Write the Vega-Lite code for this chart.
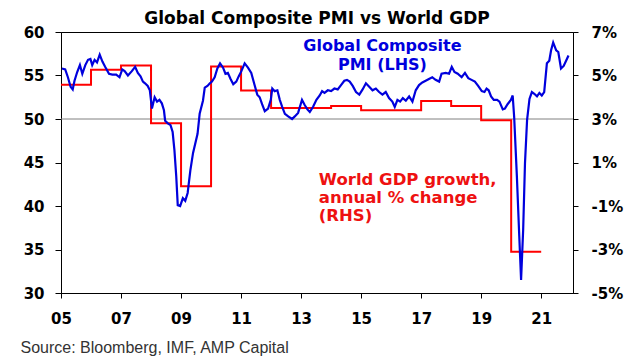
{
  "$schema": "https://vega.github.io/schema/vega-lite/v6.json",
  "width": 512,
  "height": 261,
  "autosize": {"type": "none"},
  "padding": {"left": 61, "top": 32, "right": 65, "bottom": 64},
  "background": "white",
  "title": {"text": "Global Composite PMI vs World GDP", "font": "DejaVu Sans", "fontSize": 17, "fontWeight": "bold", "color": "black", "anchor": "middle", "offset": -3},
  "datasets": {
    "pmi": [
      {"year": 2005.03, "pmi": 55.8}, {"year": 2005.14, "pmi": 55.7}, {"year": 2005.23, "pmi": 54.8}, {"year": 2005.32, "pmi": 53.7},
      {"year": 2005.39, "pmi": 53.4}, {"year": 2005.45, "pmi": 54.4}, {"year": 2005.54, "pmi": 55.4}, {"year": 2005.63, "pmi": 56.2},
      {"year": 2005.71, "pmi": 55.2}, {"year": 2005.81, "pmi": 56.2}, {"year": 2005.90, "pmi": 56.8}, {"year": 2005.98, "pmi": 56.9},
      {"year": 2006.04, "pmi": 56.2}, {"year": 2006.12, "pmi": 56.8}, {"year": 2006.20, "pmi": 56.5}, {"year": 2006.29, "pmi": 57.4},
      {"year": 2006.38, "pmi": 56.6}, {"year": 2006.47, "pmi": 56.0}, {"year": 2006.60, "pmi": 55.2}, {"year": 2006.71, "pmi": 55.1},
      {"year": 2006.84, "pmi": 55.1}, {"year": 2006.95, "pmi": 54.8}, {"year": 2007.04, "pmi": 55.7}, {"year": 2007.12, "pmi": 55.5},
      {"year": 2007.23, "pmi": 55.0}, {"year": 2007.36, "pmi": 55.5}, {"year": 2007.47, "pmi": 56.0}, {"year": 2007.56, "pmi": 55.3},
      {"year": 2007.65, "pmi": 54.9}, {"year": 2007.73, "pmi": 54.3}, {"year": 2007.80, "pmi": 54.1}, {"year": 2007.89, "pmi": 53.8},
      {"year": 2007.96, "pmi": 53.3}, {"year": 2008.03, "pmi": 51.2}, {"year": 2008.12, "pmi": 52.5}, {"year": 2008.20, "pmi": 52.0},
      {"year": 2008.28, "pmi": 52.2}, {"year": 2008.36, "pmi": 51.8}, {"year": 2008.43, "pmi": 51.0}, {"year": 2008.47, "pmi": 49.8},
      {"year": 2008.56, "pmi": 49.5}, {"year": 2008.65, "pmi": 49.3}, {"year": 2008.72, "pmi": 48.5}, {"year": 2008.78, "pmi": 46.4},
      {"year": 2008.84, "pmi": 43.4}, {"year": 2008.89, "pmi": 40.1}, {"year": 2008.97, "pmi": 40.0}, {"year": 2009.06, "pmi": 40.9},
      {"year": 2009.14, "pmi": 40.6}, {"year": 2009.22, "pmi": 41.5}, {"year": 2009.31, "pmi": 44.1}, {"year": 2009.40, "pmi": 46.1},
      {"year": 2009.55, "pmi": 48.3}, {"year": 2009.62, "pmi": 50.6}, {"year": 2009.73, "pmi": 52.1}, {"year": 2009.79, "pmi": 53.6},
      {"year": 2009.88, "pmi": 53.8}, {"year": 2009.96, "pmi": 54.1}, {"year": 2010.03, "pmi": 54.3}, {"year": 2010.12, "pmi": 54.8},
      {"year": 2010.21, "pmi": 55.8}, {"year": 2010.30, "pmi": 56.4}, {"year": 2010.40, "pmi": 55.9}, {"year": 2010.48, "pmi": 55.2},
      {"year": 2010.56, "pmi": 55.3}, {"year": 2010.65, "pmi": 54.6}, {"year": 2010.74, "pmi": 54.0}, {"year": 2010.84, "pmi": 54.3},
      {"year": 2010.92, "pmi": 54.9}, {"year": 2011.01, "pmi": 55.5}, {"year": 2011.12, "pmi": 56.4}, {"year": 2011.23, "pmi": 55.9},
      {"year": 2011.34, "pmi": 55.3}, {"year": 2011.45, "pmi": 53.9}, {"year": 2011.54, "pmi": 52.8}, {"year": 2011.62, "pmi": 52.5},
      {"year": 2011.70, "pmi": 51.7}, {"year": 2011.79, "pmi": 50.9}, {"year": 2011.90, "pmi": 51.2}, {"year": 2011.99, "pmi": 52.2},
      {"year": 2012.04, "pmi": 53.5}, {"year": 2012.12, "pmi": 53.2}, {"year": 2012.21, "pmi": 53.3}, {"year": 2012.29, "pmi": 52.2},
      {"year": 2012.37, "pmi": 51.4}, {"year": 2012.46, "pmi": 50.6}, {"year": 2012.57, "pmi": 50.3}, {"year": 2012.70, "pmi": 50.0},
      {"year": 2012.79, "pmi": 50.3}, {"year": 2012.90, "pmi": 50.7}, {"year": 2013.03, "pmi": 52.2}, {"year": 2013.12, "pmi": 51.6},
      {"year": 2013.21, "pmi": 51.1}, {"year": 2013.29, "pmi": 50.8}, {"year": 2013.40, "pmi": 51.4}, {"year": 2013.51, "pmi": 52.2},
      {"year": 2013.62, "pmi": 52.7}, {"year": 2013.70, "pmi": 53.2}, {"year": 2013.78, "pmi": 53.0}, {"year": 2013.89, "pmi": 53.3},
      {"year": 2014.00, "pmi": 53.2}, {"year": 2014.11, "pmi": 53.5}, {"year": 2014.22, "pmi": 53.4}, {"year": 2014.33, "pmi": 53.9},
      {"year": 2014.44, "pmi": 54.4}, {"year": 2014.53, "pmi": 54.5}, {"year": 2014.62, "pmi": 54.3}, {"year": 2014.72, "pmi": 53.8},
      {"year": 2014.83, "pmi": 53.1}, {"year": 2014.94, "pmi": 52.8}, {"year": 2015.05, "pmi": 53.4}, {"year": 2015.16, "pmi": 54.1},
      {"year": 2015.27, "pmi": 53.7}, {"year": 2015.38, "pmi": 53.3}, {"year": 2015.49, "pmi": 53.5}, {"year": 2015.60, "pmi": 53.1},
      {"year": 2015.71, "pmi": 52.8}, {"year": 2015.82, "pmi": 53.1}, {"year": 2015.93, "pmi": 52.4}, {"year": 2016.04, "pmi": 52.0},
      {"year": 2016.12, "pmi": 51.4}, {"year": 2016.21, "pmi": 52.2}, {"year": 2016.30, "pmi": 52.0}, {"year": 2016.39, "pmi": 52.4},
      {"year": 2016.49, "pmi": 52.1}, {"year": 2016.60, "pmi": 52.6}, {"year": 2016.71, "pmi": 52.0}, {"year": 2016.82, "pmi": 53.3},
      {"year": 2016.93, "pmi": 53.9}, {"year": 2017.04, "pmi": 54.2}, {"year": 2017.15, "pmi": 54.4}, {"year": 2017.26, "pmi": 54.6},
      {"year": 2017.37, "pmi": 54.8}, {"year": 2017.48, "pmi": 54.5}, {"year": 2017.60, "pmi": 54.3}, {"year": 2017.68, "pmi": 55.2},
      {"year": 2017.82, "pmi": 55.3}, {"year": 2017.93, "pmi": 55.2}, {"year": 2018.02, "pmi": 56.0}, {"year": 2018.11, "pmi": 55.4},
      {"year": 2018.22, "pmi": 55.2}, {"year": 2018.35, "pmi": 54.8}, {"year": 2018.46, "pmi": 55.3}, {"year": 2018.57, "pmi": 54.7},
      {"year": 2018.68, "pmi": 54.5}, {"year": 2018.79, "pmi": 54.3}, {"year": 2018.90, "pmi": 53.8}, {"year": 2019.02, "pmi": 53.2},
      {"year": 2019.11, "pmi": 53.1}, {"year": 2019.18, "pmi": 53.5}, {"year": 2019.25, "pmi": 53.3}, {"year": 2019.33, "pmi": 52.6},
      {"year": 2019.42, "pmi": 52.2}, {"year": 2019.53, "pmi": 52.2}, {"year": 2019.61, "pmi": 52.0}, {"year": 2019.72, "pmi": 51.1},
      {"year": 2019.79, "pmi": 51.2}, {"year": 2019.88, "pmi": 51.7}, {"year": 2019.99, "pmi": 52.2}, {"year": 2020.05, "pmi": 52.7},
      {"year": 2020.10, "pmi": 50.2}, {"year": 2020.19, "pmi": 43.4}, {"year": 2020.27, "pmi": 36.5}, {"year": 2020.33, "pmi": 31.5},
      {"year": 2020.40, "pmi": 37.3}, {"year": 2020.46, "pmi": 44.9}, {"year": 2020.53, "pmi": 49.9}, {"year": 2020.61, "pmi": 52.3},
      {"year": 2020.69, "pmi": 53.1}, {"year": 2020.77, "pmi": 52.9}, {"year": 2020.86, "pmi": 52.6}, {"year": 2020.94, "pmi": 53.0},
      {"year": 2021.02, "pmi": 52.7}, {"year": 2021.10, "pmi": 53.1}, {"year": 2021.19, "pmi": 56.4}, {"year": 2021.27, "pmi": 56.7},
      {"year": 2021.33, "pmi": 57.9}, {"year": 2021.40, "pmi": 58.8}, {"year": 2021.50, "pmi": 57.9}, {"year": 2021.57, "pmi": 57.7},
      {"year": 2021.66, "pmi": 55.8}, {"year": 2021.75, "pmi": 56.1}, {"year": 2021.83, "pmi": 56.7}, {"year": 2021.91, "pmi": 57.3}
    ],
    "gdp": [
      {"year": 2005, "gdp": 4.58}, {"year": 2006, "gdp": 5.27}, {"year": 2007, "gdp": 5.46}, {"year": 2008, "gdp": 2.81},
      {"year": 2009, "gdp": -0.09}, {"year": 2010, "gdp": 5.41}, {"year": 2011, "gdp": 4.31}, {"year": 2012, "gdp": 3.51},
      {"year": 2013, "gdp": 3.51}, {"year": 2014, "gdp": 3.6}, {"year": 2015, "gdp": 3.4}, {"year": 2016, "gdp": 3.4},
      {"year": 2017, "gdp": 3.83}, {"year": 2018, "gdp": 3.6}, {"year": 2019, "gdp": 2.94}, {"year": 2020, "gdp": -3.1},
      {"year": 2021, "gdp": -3.1}
    ]
  },
  "layer": [
    {
      "mark": {"type": "rule", "color": "#808080", "strokeWidth": 1},
      "data": {"values": [{"level": 50}]},
      "encoding": {
        "y": {"field": "level", "type": "quantitative", "scale": {"domain": [30, 60], "nice": false, "zero": false}, "axis": null}
      }
    },
    {
      "data": {"name": "gdp"},
      "mark": {"type": "line", "color": "#ff0000", "strokeWidth": 2, "interpolate": "step-after"},
      "encoding": {
        "x": {"field": "year", "type": "quantitative", "scale": {"domain": [2005, 2022.06], "nice": false, "zero": false}},
        "y": {"field": "gdp", "type": "quantitative", "scale": {"domain": [-5, 7], "nice": false, "zero": false},
          "axis": {"orient": "right", "title": null, "values": [-5, -3, -1, 1, 3, 5, 7], "labelExpr": "datum.value + '%'", "tickSize": 5, "labelPadding": 13}}
      }
    },
    {
      "data": {"name": "pmi"},
      "mark": {"type": "line", "color": "#0000dd", "strokeWidth": 2.2},
      "encoding": {
        "x": {"field": "year", "type": "quantitative", "scale": {"domain": [2005, 2022.06], "nice": false, "zero": false},
          "axis": {"values": [2005, 2007, 2009, 2011, 2013, 2015, 2017, 2019, 2021], "format": "d", "labelExpr": "substring(datum.label, 2)",
            "tickSize": 5, "labelPadding": 13, "labelFlush": false, "labelOverlap": false,
            "title": "Source: Bloomberg, IMF, AMP Capital", "titleFont": "Liberation Sans", "titleFontSize": 16, "titleFontWeight": "normal",
            "titleColor": "#333333", "titleAlign": "left", "titleAnchor": "start", "titleBaseline": "alphabetic", "titleX": -41, "titleY": 59}},
        "y": {"field": "pmi", "type": "quantitative", "scale": {"domain": [30, 60], "nice": false, "zero": false},
          "axis": {"orient": "left", "title": null, "values": [30, 35, 40, 45, 50, 55, 60], "tickSize": 6, "labelPadding": 11}}
      }
    },
    {
      "data": {"values": [{"note": 1}]},
      "mark": {"type": "text", "text": ["Global Composite", "PMI (LHS)"], "font": "DejaVu Sans", "fontSize": 16, "fontWeight": "bold", "color": "#0000dd", "align": "center", "baseline": "alphabetic", "lineHeight": 18.5},
      "encoding": {
        "x": {"datum": 2015.71, "type": "quantitative"},
        "y": {"datum": 57.78, "type": "quantitative", "scale": {"domain": [30, 60], "nice": false, "zero": false}, "axis": null}
      }
    },
    {
      "data": {"values": [{"note": 2}]},
      "mark": {"type": "text", "text": ["World GDP growth,", "annual % change", "(RHS)"], "font": "DejaVu Sans", "fontSize": 16.5, "fontWeight": "bold", "color": "#ee1111", "align": "left", "baseline": "alphabetic", "lineHeight": 18},
      "encoding": {
        "x": {"datum": 2013.59, "type": "quantitative"},
        "y": {"datum": 42.4, "type": "quantitative", "scale": {"domain": [30, 60], "nice": false, "zero": false}, "axis": null}
      }
    }
  ],
  "resolve": {"scale": {"y": "independent"}, "axis": {"y": "independent"}},
  "config": {
    "view": {"stroke": "black", "strokeWidth": 1},
    "axis": {
      "grid": false, "domainColor": "black", "domainWidth": 1, "tickColor": "black", "tickWidth": 1,
      "labelFont": "DejaVu Sans", "labelFontWeight": "bold", "labelFontSize": 15, "labelColor": "black"
    }
  }
}
